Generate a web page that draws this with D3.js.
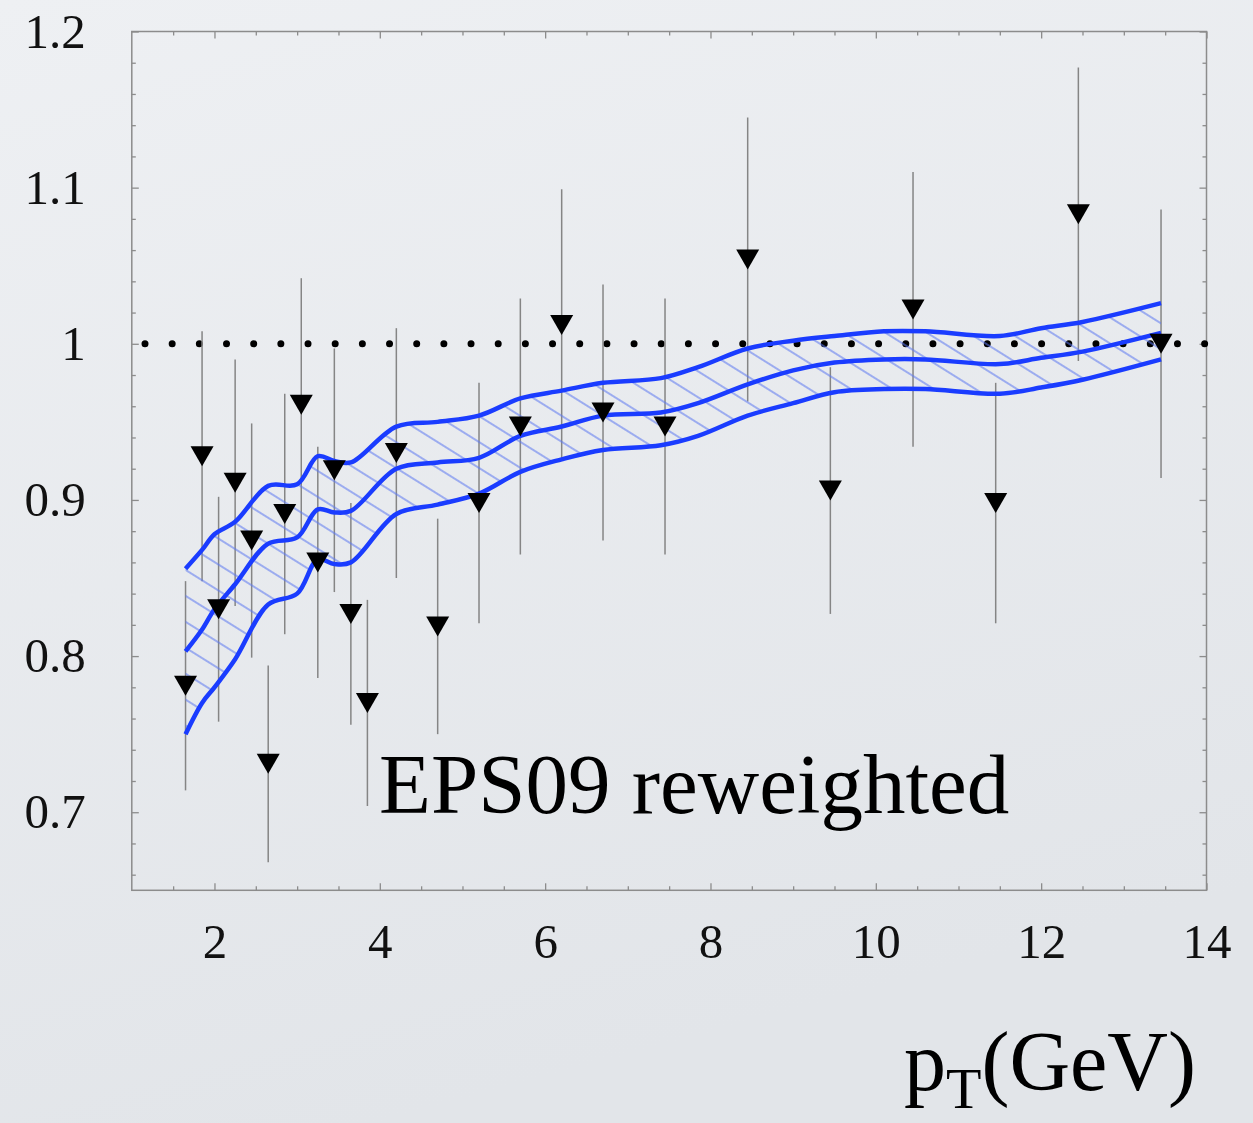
<!DOCTYPE html>
<html>
<head>
<meta charset="utf-8">
<script src="https://cdn.jsdelivr.net/npm/d3@7"></script>
<style>
html, body { margin: 0; padding: 0; }
body { background: #e9ebee; }
svg { display: block; font-family: "Liberation Serif", "Times New Roman", serif; }
</style>
</head>
<body>
<svg id="chart" width="1253" height="1123"></svg>
<script>
// Data points (pT, ratio, error)
let ptX = [1.65, 1.85, 2.05, 2.25, 2.45, 2.65, 2.85, 3.05, 3.25, 3.45, 3.65, 3.85,
           4.2, 4.7, 5.2, 5.7, 6.2, 6.7, 7.45, 8.45, 9.45, 10.45, 11.45, 12.45, 13.45];
let ptY = [0.781, 0.928, 0.830, 0.911, 0.874, 0.731, 0.891, 0.961, 0.860, 0.919, 0.827, 0.770,
           0.930, 0.819, 0.898, 0.947, 1.012, 0.956, 0.947, 1.054, 0.906, 1.022, 0.898, 1.083, 1.000];
let ptErr = [0.067, 0.080, 0.072, 0.079, 0.075, 0.063, 0.077, 0.081, 0.074, 0.078, 0.071, 0.066,
             0.080, 0.069, 0.077, 0.082, 0.087, 0.082, 0.082, 0.091, 0.079, 0.088, 0.077, 0.094, 0.086];

// EPS09 reweighted band
let bandX   = [1.65, 1.85, 2.0, 2.25, 2.65, 3.0, 3.25, 3.45, 3.65, 4.2, 4.7, 5.2, 5.7, 6.2, 6.7,
               7.4, 7.85, 8.45, 9.0, 9.5, 10.1, 10.6, 11.5, 12.0, 12.5, 13.45];
let bandHi  = [0.856, 0.868, 0.878, 0.886, 0.909, 0.910, 0.928, 0.925, 0.924, 0.947, 0.950, 0.954, 0.965, 0.970, 0.975,
               0.978, 0.985, 0.997, 1.002, 1.005, 1.008, 1.008, 1.005, 1.010, 1.014, 1.026];
let bandMid = [0.803, 0.817, 0.830, 0.846, 0.872, 0.876, 0.894, 0.892, 0.893, 0.920, 0.924, 0.927, 0.941, 0.947, 0.954,
               0.956, 0.962, 0.974, 0.983, 0.988, 0.990, 0.990, 0.987, 0.991, 0.995, 1.007];
let bandLo  = [0.750, 0.770, 0.780, 0.798, 0.833, 0.840, 0.862, 0.859, 0.860, 0.891, 0.897, 0.904, 0.918, 0.926, 0.932,
               0.935, 0.941, 0.954, 0.962, 0.969, 0.971, 0.971, 0.968, 0.972, 0.977, 0.990];

let xTicks = [2, 4, 6, 8, 10, 12, 14];
let yTicks = [0.7, 0.8, 0.9, 1, 1.1, 1.2];

let svg = d3.select('#chart');

// background
let defs = svg.append('defs');
let bg = defs.append('linearGradient').attr('id', 'bg')
    .attr('x1', 0).attr('y1', 0).attr('x2', 0.3).attr('y2', 1);
bg.append('stop').attr('offset', '0%').attr('stop-color', '#eef0f3');
bg.append('stop').attr('offset', '100%').attr('stop-color', '#e2e5e9');
svg.append('rect').attr('width', 1253).attr('height', 1123).attr('fill', 'url(#bg)');

// hatch pattern for the band
let hatch = defs.append('pattern').attr('id', 'hatch')
    .attr('patternUnits', 'userSpaceOnUse')
    .attr('width', 22).attr('height', 22)
    .attr('patternTransform', 'rotate(32)');
hatch.append('line')
    .attr('x1', 0).attr('y1', 11).attr('x2', 22).attr('y2', 11)
    .attr('stroke', '#5c78f0').attr('stroke-width', 1.1);

let x = d3.scaleLinear().domain([1, 14]).range([131.8, 1206.5]);
let y = d3.scaleLinear().domain([0.65, 1.2]).range([890.3, 31.5]);

// frame
let frame = svg.append('g').attr('class', 'frame');
frame.append('rect')
    .attr('x', x(1)).attr('y', y(1.2))
    .attr('width', x(14) - x(1)).attr('height', y(0.65) - y(1.2))
    .attr('fill', 'none').attr('stroke', '#8c8c8c').attr('stroke-width', 1.5);

let xMinor = d3.range(1.5, 14, 0.5).filter(v => !xTicks.includes(v));
let yMinor = d3.range(0.66, 1.2, 0.02).map(v => +v.toFixed(2)).filter(v => !yTicks.includes(v));

function styleAxis(g) {
    g.select('.domain').remove();
    g.selectAll('.tick line').attr('stroke', '#8c8c8c').attr('stroke-width', 1.3);
    g.selectAll('.tick text').attr('fill', '#111').style('font-size', '49px')
        .style('font-family', '"Liberation Serif", "Times New Roman", serif');
}

// bottom
svg.append('g').attr('transform', `translate(0,${y(0.65)})`)
    .call(d3.axisBottom(x).tickValues(xTicks).tickSize(-7).tickPadding(33).tickFormat(d3.format('d')))
    .call(styleAxis);
svg.append('g').attr('transform', `translate(0,${y(0.65)})`)
    .call(d3.axisBottom(x).tickValues(xMinor).tickSize(-4).tickFormat(''))
    .call(styleAxis);
// top
svg.append('g').attr('transform', `translate(0,${y(1.2)})`)
    .call(d3.axisTop(x).tickValues(xTicks).tickSize(-7).tickFormat(''))
    .call(styleAxis);
svg.append('g').attr('transform', `translate(0,${y(1.2)})`)
    .call(d3.axisTop(x).tickValues(xMinor).tickSize(-4).tickFormat(''))
    .call(styleAxis);
// left
svg.append('g').attr('transform', `translate(${x(1)},0)`)
    .call(d3.axisLeft(y).tickValues(yTicks).tickSize(-7).tickPadding(46).tickFormat(d => d3.format('')(d)))
    .call(styleAxis);
svg.append('g').attr('transform', `translate(${x(1)},0)`)
    .call(d3.axisLeft(y).tickValues(yMinor).tickSize(-4).tickFormat(''))
    .call(styleAxis);
// right
svg.append('g').attr('transform', `translate(${x(14)},0)`)
    .call(d3.axisRight(y).tickValues(yTicks).tickSize(-7).tickFormat(''))
    .call(styleAxis);
svg.append('g').attr('transform', `translate(${x(14)},0)`)
    .call(d3.axisRight(y).tickValues(yMinor).tickSize(-4).tickFormat(''))
    .call(styleAxis);

let plot = svg.append('g');

// dotted reference line at 1
plot.append('line')
    .attr('x1', x(1)).attr('x2', x(14))
    .attr('y1', y(1)).attr('y2', y(1))
    .attr('stroke', '#000').attr('stroke-width', 7)
    .attr('stroke-linecap', 'round')
    .attr('stroke-dasharray', '0 27.17')
    .attr('stroke-dashoffset', -13.2);

// error bars
plot.append('g').selectAll('line')
    .data(ptX)
    .enter()
    .append('line')
    .attr('x1', d => x(d)).attr('x2', d => x(d))
    .attr('y1', (d, i) => y(ptY[i] + ptErr[i]))
    .attr('y2', (d, i) => y(ptY[i] - ptErr[i]))
    .attr('stroke', '#858585').attr('stroke-width', 1.5);

// band
let band = bandX.map((d, i) => ({ x: d, hi: bandHi[i], mid: bandMid[i], lo: bandLo[i] }));
let curve = d3.curveCatmullRom.alpha(0.5);

plot.append('path')
    .datum(band)
    .attr('d', d3.area().curve(curve).x(d => x(d.x)).y0(d => y(d.lo)).y1(d => y(d.hi)))
    .attr('fill', 'url(#hatch)');

['hi', 'mid', 'lo'].forEach(k => {
    plot.append('path')
        .datum(band)
        .attr('d', d3.line().curve(curve).x(d => x(d.x)).y(d => y(d[k])))
        .attr('fill', 'none')
        .attr('stroke', '#1a3cff')
        .attr('stroke-width', 4.5);
});

// triangles
plot.append('g').selectAll('path')
    .data(ptX)
    .enter()
    .append('path')
    .attr('d', 'M-11.5,-10L11.5,-10L0,10Z')
    .attr('transform', (d, i) => `translate(${x(d)},${y(ptY[i])})`)
    .attr('fill', '#000');

// labels
svg.append('text')
    .attr('x', 379).attr('y', 813)
    .style('font-size', '85px')
    .attr('fill', '#000')
    .text('EPS09 reweighted');

let xt = svg.append('text')
    .attr('x', 1196).attr('y', 1090)
    .attr('text-anchor', 'end')
    .style('font-size', '84px')
    .attr('fill', '#000');
xt.append('tspan').text('p');
xt.append('tspan').attr('dy', 18).style('font-size', '58px').text('T');
xt.append('tspan').attr('dy', -18).text('(GeV)');
</script>
</body>
</html>
